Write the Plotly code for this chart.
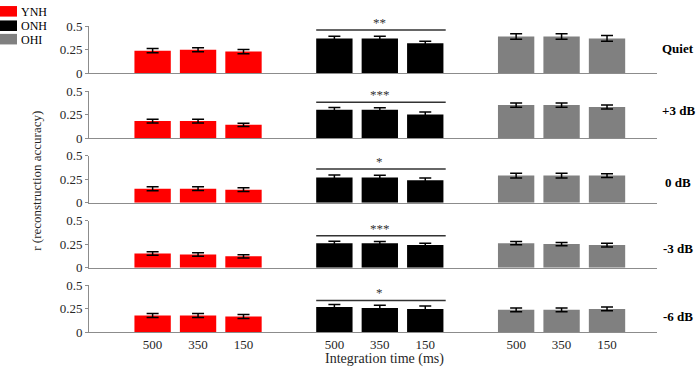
import plotly.graph_objects as go

groups = ["YNH", "ONH", "OHI"]
colors = ["#ff0000", "#000000", "#808080"]
tick_labels = ["500", "350", "150"]
conditions = ["Quiet", "+3 dB", "0 dB", "-3 dB", "-6 dB"]

# values[condition][group] -> three integration times
ynh = [[0.24, 0.25, 0.23], [0.18, 0.18, 0.14], [0.15, 0.15, 0.14], [0.15, 0.14, 0.12], [0.18, 0.18, 0.17]]
onh = [[0.37, 0.37, 0.32], [0.30, 0.30, 0.25], [0.27, 0.27, 0.24], [0.26, 0.26, 0.24], [0.27, 0.26, 0.25]]
ohi = [[0.39, 0.39, 0.37], [0.35, 0.35, 0.33], [0.29, 0.29, 0.29], [0.26, 0.25, 0.24], [0.24, 0.24, 0.25]]
ynh_err = [[0.022, 0.022, 0.022], [0.02, 0.02, 0.018], [0.022, 0.02, 0.02], [0.018, 0.018, 0.018], [0.02, 0.02, 0.022]]
onh_err = [[0.022, 0.022, 0.02], [0.025, 0.022, 0.028], [0.025, 0.022, 0.025], [0.02, 0.018, 0.018], [0.028, 0.028, 0.03]]
ohi_err = [[0.03, 0.03, 0.03], [0.022, 0.022, 0.022], [0.025, 0.025, 0.02], [0.018, 0.018, 0.02], [0.02, 0.02, 0.02]]
sig_stars = ["**", "***", "*", "***", "*"]
sig_height = [0.46, 0.38, 0.36, 0.34, 0.34]

W, H = 700, 375
ax_left, ax_right = 89, 657
zero_px = [69, 136.5, 204, 271.5, 339]
label_px = [43, 108, 183, 252, 322]
panel_h = 49

series = [ynh, onh, ohi]
errs = [ynh_err, onh_err, ohi_err]
group_start = [1, 5, 9]
positions = [[g + i for i in range(3)] for g in group_start]

fig = go.Figure()
layout = {}
font_fam = "Liberation Serif, Times New Roman, serif"
annotations = []
shapes = []
for p in range(5):
    idx = "" if p == 0 else str(p + 1)
    xa, ya = "x" + idx, "y" + idx
    for g in range(3):
        fig.add_trace(go.Bar(
            x=positions[g], y=series[g][p], width=0.8,
            marker=dict(color=colors[g], line=dict(width=0)),
            error_y=dict(type="data", array=errs[g][p], color="#000000", thickness=1.5, width=6),
            xaxis=xa, yaxis=ya, showlegend=False, hoverinfo="skip"))
    bottom = 1 - zero_px[p] / H
    top = 1 - (zero_px[p] - panel_h) / H
    layout["xaxis" + idx] = dict(
        domain=[ax_left / W, ax_right / W], range=[-0.4, 12.1],
        showline=True, linecolor="#8c8c8c", linewidth=1,
        tickmode="array",
        tickvals=[v for pos in positions for v in pos],
        ticktext=tick_labels * 3,
        showticklabels=(p == 4), ticks="", showgrid=False, zeroline=False,
        tickfont=dict(family=font_fam, size=13, color="#262626"),
        anchor=ya, fixedrange=True)
    layout["yaxis" + idx] = dict(
        domain=[bottom, top], range=[0, 0.5],
        tickvals=[0, 0.25, 0.5], ticktext=["0", "0.25", "0.5"],
        showline=True, linecolor="#8c8c8c", linewidth=1,
        ticks="outside", ticklen=3, tickcolor="#8c8c8c",
        showgrid=False, zeroline=False,
        tickfont=dict(family=font_fam, size=13, color="#262626"),
        anchor=xa, fixedrange=True)
    # significance bar over ONH group
    shapes.append(dict(type="line", xref=xa, yref=ya, x0=4.6, x1=7.45,
                       y0=sig_height[p], y1=sig_height[p],
                       line=dict(color="#333333", width=1.5)))
    annotations.append(dict(xref=xa, yref=ya, x=6, y=sig_height[p], text=sig_stars[p],
                            showarrow=False, yanchor="bottom", yshift=-2,
                            font=dict(family=font_fam, size=13, color="#333333")))
    # condition label on the right
    annotations.append(dict(xref="paper", yref="paper", x=678 / W,
                            y=1 - label_px[p] / H, text="<b>" + conditions[p] + "</b>",
                            showarrow=False, xanchor="center", yanchor="middle",
                            font=dict(family=font_fam, size=13, color="#000000")))

# legend (manual)
legend_y = [5, 20, 34]
for g in range(3):
    shapes.append(dict(type="rect", xref="paper", yref="paper",
                       x0=0, x1=17 / W, y0=1 - (legend_y[g] + 5) / H, y1=1 - (legend_y[g] - 6) / H,
                       fillcolor=colors[g], line=dict(width=0)))
    annotations.append(dict(xref="paper", yref="paper", x=19 / W, y=1 - legend_y[g] / H,
                            text=groups[g], showarrow=False, xanchor="left", yanchor="middle",
                            font=dict(family=font_fam, size=12, color="#000000")))

annotations.append(dict(xref="paper", yref="paper", x=37 / W, y=1 - 181 / H,
                        text="r (reconstruction accuracy)", textangle=-90, showarrow=False,
                        xanchor="center", yanchor="middle",
                        font=dict(family=font_fam, size=13, color="#262626")))
annotations.append(dict(xref="paper", yref="paper", x=384 / W, y=1 - 367 / H,
                        text="Integration time (ms)", showarrow=False,
                        xanchor="center", yanchor="middle",
                        font=dict(family=font_fam, size=14, color="#262626")))

fig.update_layout(
    width=W, height=H, margin=dict(l=0, r=0, t=0, b=0),
    plot_bgcolor="white", paper_bgcolor="white",
    barmode="overlay", annotations=annotations, shapes=shapes, **layout)

fig.write_html("out.html", config={"displayModeBar": False, "staticPlot": True},
               post_script="document.body.style.margin='0';document.body.style.overflow='hidden';")
